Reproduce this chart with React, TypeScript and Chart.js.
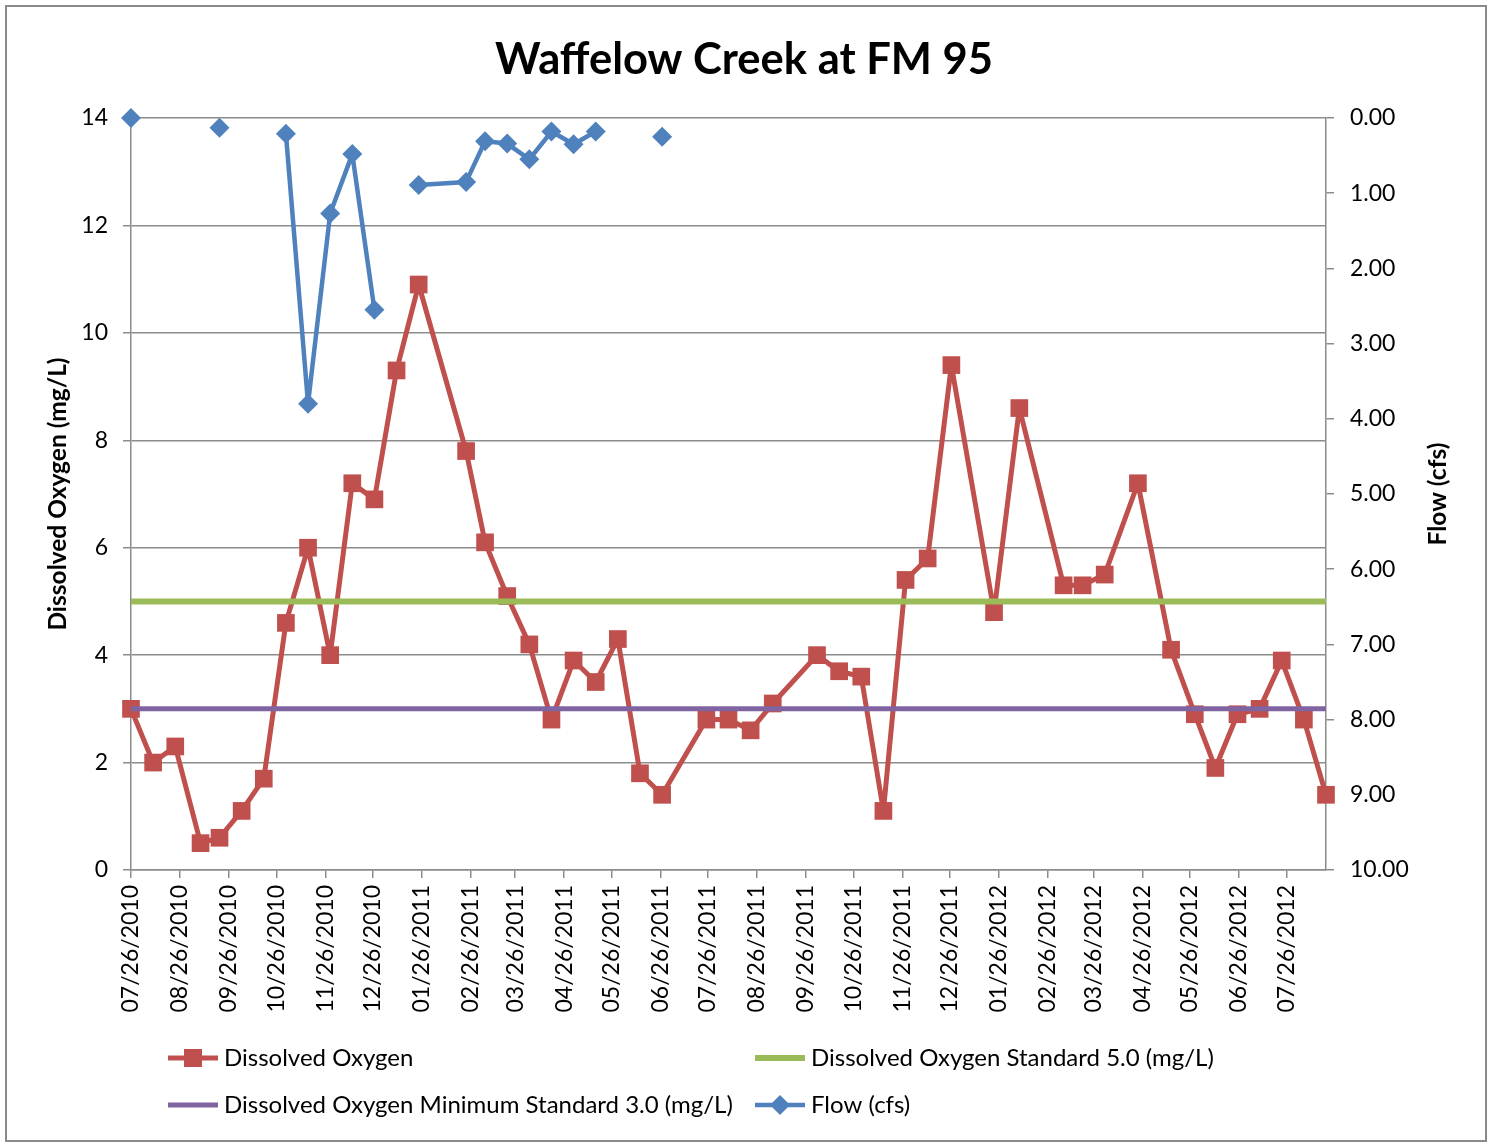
import React, { useEffect, useRef } from 'react';
import { Chart, registerables } from 'chart.js';

Chart.register(...registerables);

const chartTitle = 'Waffelow Creek at FM 95';
const leftAxisTitle = 'Dissolved Oxygen (mg/L)';
const rightAxisTitle = 'Flow (cfs)';

const sampleDates = [
  '07/26/2010', '08/09/2010', '08/23/2010', '09/08/2010', '09/20/2010', '10/04/2010', '10/18/2010', '11/01/2010', '11/15/2010', '11/29/2010', '12/13/2010', '12/27/2010',
  '01/10/2011', '01/24/2011', '02/23/2011', '03/07/2011', '03/21/2011', '04/04/2011', '04/18/2011', '05/02/2011', '05/16/2011', '05/30/2011', '06/13/2011', '06/27/2011',
  '07/25/2011', '08/08/2011', '08/22/2011', '09/05/2011', '10/03/2011', '10/17/2011', '10/31/2011', '11/14/2011', '11/28/2011', '12/12/2011', '12/27/2011',
  '01/23/2012', '02/08/2012', '03/07/2012', '03/19/2012', '04/02/2012', '04/23/2012', '05/14/2012', '05/29/2012', '06/11/2012', '06/25/2012', '07/09/2012', '07/23/2012', '08/06/2012', '08/20/2012',
];

const dissolvedOxygen = [
  3.0, 2.0, 2.3, 0.5, 0.6, 1.1, 1.7, 4.6, 6.0, 4.0,
  7.2, 6.9, 9.3, 10.9, 7.8, 6.1, 5.1, 4.2, 2.8, 3.9,
  3.5, 4.3, 1.8, 1.4, 2.8, 2.8, 2.6, 3.1, 4.0, 3.7,
  3.6, 1.1, 5.4, 5.8, 9.4, 4.8, 8.6, 5.3, 5.3, 5.5,
  7.2, 4.1, 2.9, 1.9, 2.9, 3.0, 3.9, 2.8, 1.4,
];

const flowCfs: (number | null)[] = [
  0.0, null, null, null, 0.13, null, null, 0.21, 3.8, 1.27,
  0.48, 2.55, null, 0.89, 0.85, 0.31, 0.34, 0.55, 0.18, 0.35,
  0.18, null, null, 0.25, null, null, null, null, null, null,
  null, null, null, null, null, null, null, null, null, null,
  null, null, null, null, null, null, null, null, null,
];

const doStandard = 5.0;
const doMinimumStandard = 3.0;

const xTickLabels = [
  '07/26/2010', '08/26/2010', '09/26/2010', '10/26/2010', '11/26/2010', '12/26/2010',
  '01/26/2011', '02/26/2011', '03/26/2011', '04/26/2011', '05/26/2011', '06/26/2011',
  '07/26/2011', '08/26/2011', '09/26/2011', '10/26/2011', '11/26/2011', '12/26/2011',
  '01/26/2012', '02/26/2012', '03/26/2012', '04/26/2012', '05/26/2012', '06/26/2012', '07/26/2012',
];

const legendLabels = [
  'Dissolved Oxygen',
  'Dissolved Oxygen Standard 5.0 (mg/L)',
  'Dissolved Oxygen Minimum Standard 3.0 (mg/L)',
  'Flow (cfs)',
];

const COLORS = {
  do: '#C0504D',
  std: '#9BBB59',
  min: '#8064A2',
  flow: '#4F81BD',
  grid: '#8C8C8C',
};

const FONT = 'Lato, "Open Sans", sans-serif';

function dayIndex(s: string): number {
  const [m, d, y] = s.split('/').map(Number);
  const [m0, d0, y0] = sampleDates[0].split('/').map(Number);
  return Math.round((Date.UTC(y, m - 1, d) - Date.UTC(y0, m0 - 1, d0)) / 86400000);
}

const W = 1489;
const H = 1144;

const decorPlugin = {
  id: 'decor',
  afterDraw(chart: any) {
    const ctx = chart.ctx as CanvasRenderingContext2D;
    ctx.save();
    // outer border
    ctx.strokeStyle = '#8A8A8A';
    ctx.lineWidth = 2;
    ctx.strokeRect(6, 6, 1480, 1135);

    // title
    ctx.fillStyle = '#000';
    ctx.textAlign = 'center';
    ctx.textBaseline = 'middle';
    ctx.font = `bold 43.5px ${FONT}`;
    ctx.fillText(chartTitle, 744, 60);

    // axis titles
    const cy = (chart.chartArea.top + chart.chartArea.bottom) / 2;
    ctx.font = `bold 24.5px ${FONT}`;
    ctx.save();
    ctx.translate(58, cy);
    ctx.rotate(-Math.PI / 2);
    ctx.fillText(leftAxisTitle, 0, 0);
    ctx.restore();
    ctx.save();
    ctx.translate(1438, cy);
    ctx.rotate(-Math.PI / 2);
    ctx.fillText(rightAxisTitle, 0, 0);
    ctx.restore();

    // legend
    const items = [
      { label: legendLabels[0], color: COLORS.do, lw: 5, marker: 'rect', x: 168, y: 1058 },
      { label: legendLabels[1], color: COLORS.std, lw: 6, marker: null, x: 755, y: 1058 },
      { label: legendLabels[2], color: COLORS.min, lw: 5, marker: null, x: 168, y: 1105 },
      { label: legendLabels[3], color: COLORS.flow, lw: 4.5, marker: 'diamond', x: 755, y: 1105 },
    ];
    ctx.font = `24px ${FONT}`;
    ctx.textAlign = 'left';
    ctx.textBaseline = 'middle';
    for (const it of items) {
      ctx.strokeStyle = it.color;
      ctx.lineWidth = it.lw;
      ctx.beginPath();
      ctx.moveTo(it.x, it.y);
      ctx.lineTo(it.x + 50, it.y);
      ctx.stroke();
      ctx.fillStyle = it.color;
      const mx = it.x + 25;
      if (it.marker === 'rect') {
        ctx.fillRect(mx - 9, it.y - 9, 18, 18);
      } else if (it.marker === 'diamond') {
        ctx.beginPath();
        ctx.moveTo(mx - 10, it.y);
        ctx.lineTo(mx, it.y - 10);
        ctx.lineTo(mx + 10, it.y);
        ctx.lineTo(mx, it.y + 10);
        ctx.closePath();
        ctx.fill();
      }
      ctx.fillStyle = '#000';
      ctx.fillText(it.label, it.x + 56, it.y);
    }
    ctx.restore();
  },
};

export default function App() {
  const canvasRef = useRef<HTMLCanvasElement | null>(null);

  useEffect(() => {
    const canvas = canvasRef.current;
    if (!canvas) return;
    const xDays = sampleDates.map(dayIndex);
    const xMax = xDays[xDays.length - 1];

    const chart = new Chart(canvas, {
      type: 'line',
      data: {
        datasets: [
          {
            label: legendLabels[0],
            data: xDays.map((x, i) => ({ x, y: dissolvedOxygen[i] })),
            borderColor: COLORS.do,
            backgroundColor: COLORS.do,
            borderWidth: 5,
            borderJoinStyle: 'round',
            borderCapStyle: 'round',
            pointStyle: 'rect',
            pointRadius: 12.5,
            pointBorderWidth: 0,
            pointBackgroundColor: COLORS.do,
            yAxisID: 'y',
            order: 3,
            clip: false,
          } as any,
          {
            label: legendLabels[1],
            data: [{ x: 0, y: doStandard }, { x: xMax, y: doStandard }],
            borderColor: COLORS.std,
            borderWidth: 6,
            pointRadius: 0,
            yAxisID: 'y',
            order: 1,
            clip: false,
          },
          {
            label: legendLabels[2],
            data: [{ x: 0, y: doMinimumStandard }, { x: xMax, y: doMinimumStandard }],
            borderColor: COLORS.min,
            borderWidth: 5,
            pointRadius: 0,
            yAxisID: 'y',
            order: 1,
            clip: false,
          },
          {
            label: legendLabels[3],
            data: xDays.map((x, i) => ({ x, y: flowCfs[i] })),
            borderColor: COLORS.flow,
            backgroundColor: COLORS.flow,
            borderWidth: 4.5,
            borderJoinStyle: 'round',
            borderCapStyle: 'round',
            pointStyle: 'rectRot',
            pointRadius: 10,
            pointBorderWidth: 0,
            pointBackgroundColor: COLORS.flow,
            spanGaps: false,
            yAxisID: 'y1',
            order: 0,
            clip: false,
          } as any,
        ],
      },
      options: {
        animation: false,
        responsive: false,
        events: [],
        layout: { padding: { top: 118, left: 0, right: 0, bottom: 0 } },
        plugins: {
          legend: { display: false },
          title: { display: false },
          tooltip: { enabled: false },
        },
        scales: {
          x: {
            type: 'linear',
            min: 0,
            max: xMax,
            afterBuildTicks: (scale: any) => {
              scale.ticks = xTickLabels.map((l) => ({ value: dayIndex(l) }));
            },
            afterFit: (scale: any) => {
              scale.height = 274;
            },
            ticks: {
              autoSkip: false,
              minRotation: 90,
              maxRotation: 90,
              padding: 7,
              color: '#000',
              font: { family: FONT, size: 23 },
              callback: (_v: any, i: number) => xTickLabels[i],
            },
            grid: {
              drawOnChartArea: false,
              drawTicks: true,
              tickLength: 8,
              color: COLORS.grid,
              lineWidth: 1.5,
            },
            border: { color: COLORS.grid, width: 1.5 },
          },
          y: {
            position: 'left',
            min: 0,
            max: 14,
            afterFit: (scale: any) => {
              scale.width = 131;
            },
            ticks: {
              stepSize: 2,
              padding: 15,
              color: '#000',
              font: { family: FONT, size: 23 },
            },
            grid: {
              color: COLORS.grid,
              lineWidth: 1.5,
              tickLength: 8,
            },
            border: { color: COLORS.grid, width: 1.5 },
          },
          y1: {
            position: 'right',
            min: 0,
            max: 10,
            reverse: true,
            afterFit: (scale: any) => {
              scale.width = 163;
            },
            ticks: {
              stepSize: 1,
              padding: 16,
              color: '#000',
              font: { family: FONT, size: 23 },
              callback: (v: any) => Number(v).toFixed(2),
            },
            grid: {
              drawOnChartArea: false,
              color: COLORS.grid,
              lineWidth: 1.5,
              tickLength: 8,
            },
            border: { color: COLORS.grid, width: 1.5 },
          },
        },
      } as any,
      plugins: [decorPlugin],
    });
    return () => chart.destroy();
  }, []);

  return (
    <div style={{ position: 'absolute', left: 0, top: 0, width: W, height: H, background: '#fff' }}>
      <canvas ref={canvasRef} width={W} height={H} style={{ width: W, height: H, display: 'block' }} />
    </div>
  );
}
